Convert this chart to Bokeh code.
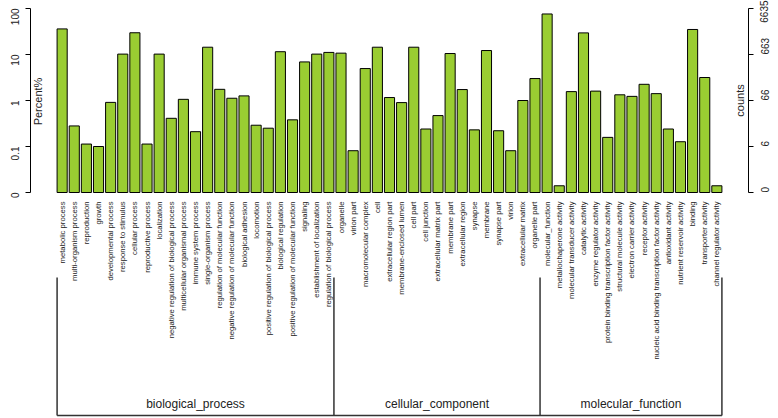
import math
from bokeh.plotting import figure
from bokeh.models import (Range1d, LogScale, LinearScale, LogAxis, FixedTicker,
                          CustomJSTickFormatter, Label)
from bokeh.core.properties import value
from bokeh.embed import file_html
from bokeh.resources import INLINE

# ---------------- data ----------------
bp_terms = ["metabolic process", "multi-organism process", "reproduction", "growth",
            "developmental process", "response to stimulus", "cellular process",
            "reproductive process", "localization",
            "negative regulation of biological process",
            "multicellular organismal process", "immune system process",
            "single-organism process", "regulation of molecular function",
            "negative regulation of molecular function", "biological adhesion",
            "locomotion", "positive regulation of biological process",
            "biological regulation", "positive regulation of molecular function",
            "signaling", "establishment of localization",
            "regulation of biological process"]
bp_pct = [36, 0.28, 0.113, 0.1, 0.91, 10.2, 29.7, 0.113, 10.2, 0.41, 1.06, 0.21,
          14.4, 1.75, 1.12, 1.26, 0.29, 0.25, 11.5, 0.38, 6.9, 10.2, 11.1]

cc_terms = ["organelle", "virion part", "macromolecular complex", "cell",
            "extracellular region part", "membrane-enclosed lumen", "cell part",
            "cell junction", "extracellular matrix part", "membrane part",
            "extracellular region", "synapse", "membrane", "synapse part", "virion",
            "extracellular matrix", "organelle part"]
cc_pct = [10.7, 0.081, 4.95, 14.4, 1.16, 0.9, 14.4, 0.24, 0.47, 10.5, 1.73, 0.23,
          12.2, 0.22, 0.081, 1.0, 3.0]

mf_terms = ["molecular_function", "metallochaperone activity",
            "molecular transducer activity", "catalytic activity",
            "enzyme regulator activity",
            "protein binding transcription factor activity",
            "structural molecule activity", "electron carrier activity",
            "receptor activity",
            "nucleic acid binding transcription factor activity",
            "antioxidant activity", "nutrient reservoir activity", "binding",
            "transporter activity", "channel regulator activity"]
mf_pct = [76, 0.014, 1.56, 29.5, 1.6, 0.158, 1.33, 1.23, 2.25, 1.41, 0.24, 0.127,
          35, 3.16, 0.014]

groups = ["biological_process", "cellular_component", "molecular_function"]
pct_ticks = [0.01, 0.1, 1, 10, 100]
pct_tick_labels = ["0", "0.1", "1", "10", "100"]
total_count = 6635
count_tick_labels = ["0", "6", "66", "663", "6635"]

# ---------------- layout ----------------
W, H = 778, 418
FL, FR = 30, 30
FW = W - FL - FR
FH = H
base_fy, top_fy = 192, 8
D = (base_fy - top_fy) / 4.0
y_lo = 10 ** (-2 - (FH - base_fy) / D)
y_hi = 10 ** (2 + top_fy / D)

terms = bp_terms + cc_terms + mf_terms
pct = bp_pct + cc_pct + mf_pct
N = len(terms)
space, bw = 0.2, 1.0
centers = [space + i * (space + bw) + bw / 2 for i in range(N)]
x0 = space
x1 = N * (space + bw)
pad = 0.04 * (x1 - x0)
base = pct_ticks[0]

p = figure(width=W, height=H, x_range=Range1d(x0 - pad, x1 + pad),
           y_range=Range1d(y_lo, y_hi), y_axis_type="log",
           x_axis_location=None, output_backend="svg", toolbar_location=None,
           min_border_left=FL, min_border_right=FR, min_border_top=0,
           min_border_bottom=0, outline_line_color=None)
p.xgrid.visible = False
p.ygrid.visible = False
p.extra_y_ranges = {"counts": Range1d(y_lo * total_count / 100, y_hi * total_count / 100),
                    "px": Range1d(FH, 0)}
p.extra_y_scales = {"counts": LogScale(), "px": LinearScale()}
p.extra_x_ranges = {"pxx": Range1d(0, FW)}
p.extra_x_scales = {"pxx": LinearScale()}

# bars
p.vbar(x=centers, top=pct, bottom=base, width=bw, fill_color="#9ACD32",
       line_color="black", line_width=1)

# category labels
p.text(x=centers, y=[base] * N, text=terms, angle=math.pi / 2, text_align="right",
       text_baseline="middle", y_offset=9, text_font=value("Liberation Sans"),
       text_font_size=value("7.7px"), text_color="#222222")

# group brackets
sizes = [len(bp_terms), len(cc_terms), len(mf_terms)]
edges = [x0]
cum = 0
for s in sizes:
    cum += s
    edges.append(space + (cum - 1) * (space + bw) + bw)
br_top, br_bot = 277, 415
p.segment(x0=edges, y0=[br_top] * len(edges), x1=edges, y1=[br_bot] * len(edges),
          y_range_name="px", line_color="#333333", line_width=1.5)
p.segment(x0=[edges[0]], y0=[br_bot], x1=[edges[-1]], y1=[br_bot],
          y_range_name="px", line_color="#333333", line_width=1.5)
mids = [(edges[i] + edges[i + 1]) / 2 for i in range(3)]
p.text(x=mids, y=[403] * 3, text=groups, y_range_name="px", text_align="center",
       text_baseline="middle", text_font=value("Liberation Sans"),
       text_font_size=value("12px"), text_color="#222222")

# left axis (percent)
ax = p.yaxis[0]
ax.ticker = FixedTicker(ticks=pct_ticks)
ax.formatter = CustomJSTickFormatter(args=dict(labels=pct_tick_labels),
                                     code="return labels[index];")
ax.bounds = (pct_ticks[0], pct_ticks[-1])
ax.major_tick_out = 5
ax.major_tick_in = 0
ax.minor_tick_line_color = None
ax.major_label_orientation = math.pi / 2
ax.major_label_standoff = 11
ax.major_label_text_font = "Liberation Sans"
ax.major_label_text_font_size = "10px"
ax.major_label_text_color = "#222222"

# right axis (counts)
count_ticks = [t * total_count / 100 for t in pct_ticks]
rax = LogAxis(y_range_name="counts", ticker=FixedTicker(ticks=count_ticks),
              formatter=CustomJSTickFormatter(args=dict(labels=count_tick_labels),
                                              code="return labels[index];"))
rax.bounds = (count_ticks[0], count_ticks[-1])
rax.major_tick_out = 5
rax.major_tick_in = 0
rax.minor_tick_line_color = None
rax.major_label_orientation = math.pi / 2
rax.major_label_standoff = 11
rax.major_label_text_font = "Liberation Sans"
rax.major_label_text_font_size = "10px"
rax.major_label_text_color = "#222222"
p.add_layout(rax, "right")

# axis titles (drawn inside as in the original)
p.add_layout(Label(x=7, y=101, x_range_name="pxx", y_range_name="px", text="Percent%",
                   angle=math.pi / 2, text_align="center", text_baseline="middle",
                   text_font="Liberation Sans", text_font_size="11px",
                   text_color="#222222"))
p.add_layout(Label(x=FW - 9, y=100, x_range_name="pxx", y_range_name="px", text="counts",
                   angle=math.pi / 2, text_align="center", text_baseline="middle",
                   text_font="Liberation Sans", text_font_size="11px",
                   text_color="#222222"))

open("out.html", "w").write(file_html(p, INLINE))
